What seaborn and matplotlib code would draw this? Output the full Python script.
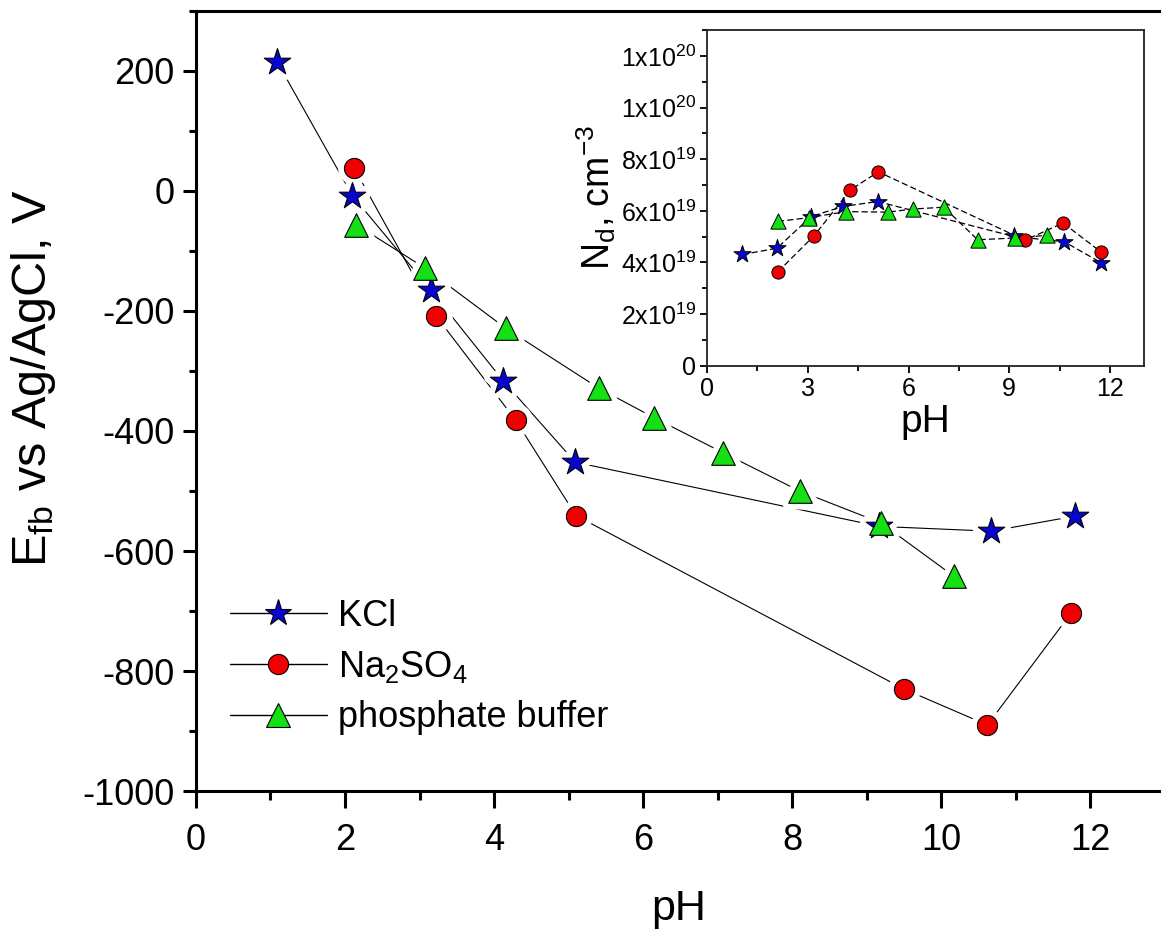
import matplotlib
matplotlib.use("Agg")
import matplotlib.pyplot as plt
import seaborn as sns
import pandas as pd
from matplotlib.lines import Line2D
from matplotlib.ticker import MultipleLocator, FixedLocator, FixedFormatter

# Données principales : potentiel de bande plate (mV) en fonction du pH
ph_kcl = [1.09, 2.10, 3.15, 4.12, 5.09, 9.17, 10.67, 11.79]
efb_kcl = [215, -8, -165, -316, -452, -559, -567, -542]
ph_na2so4 = [2.12, 3.22, 4.29, 5.10, 9.50, 10.62, 11.74]
efb_na2so4 = [39, -208, -382, -541, -830, -890, -704]
ph_phos = [2.15, 3.08, 4.16, 5.41, 6.15, 7.07, 8.10, 9.19, 10.17]
efb_phos = [-56, -129, -229, -329, -378, -436, -500, -553, -642]

# Encart : densité de donneurs Nd (cm^-3)
nd_ph_kcl = [1.05, 2.08, 3.10, 4.05, 5.08, 9.13, 10.64, 11.74]
nd_kcl = [4.31e19, 4.55e19, 5.78e19, 6.17e19, 6.36e19, 5.01e19, 4.80e19, 3.99e19]
nd_ph_na2so4 = [2.11, 3.19, 4.27, 5.10, 9.47, 10.60, 11.72]
nd_na2so4 = [3.64e19, 5.04e19, 6.81e19, 7.51e19, 4.86e19, 5.53e19, 4.42e19]
nd_ph_phos = [2.11, 3.05, 4.14, 5.39, 6.13, 7.05, 8.06, 9.17, 10.11]
nd_phos = [5.59e19, 5.74e19, 5.97e19, 5.95e19, 6.07e19, 6.14e19, 4.88e19, 4.95e19, 5.05e19]

labels = ["KCl", "Na$_2$SO$_4$", "phosphate buffer"]
colors = ["#0606d0", "#f00000", "#14e014"]
markers = ["*", "o", "^"]
sizes_main = [20, 14.5, 17]
sizes_inset = [13, 9.5, 11]
inset_yticks = [0, 2e19, 4e19, 6e19, 8e19, 1.0e20, 1.2e20]
inset_ylabels = ["0", "2x10$^{19}$", "4x10$^{19}$", "6x10$^{19}$", "8x10$^{19}$", "1x10$^{20}$", "1x10$^{20}$"]

main_df = pd.concat([
    pd.DataFrame({"pH": ph_kcl, "E": efb_kcl, "sel": labels[0]}),
    pd.DataFrame({"pH": ph_na2so4, "E": efb_na2so4, "sel": labels[1]}),
    pd.DataFrame({"pH": ph_phos, "E": efb_phos, "sel": labels[2]}),
])
inset_df = pd.concat([
    pd.DataFrame({"pH": nd_ph_kcl, "Nd": nd_kcl, "sel": labels[0]}),
    pd.DataFrame({"pH": nd_ph_na2so4, "Nd": nd_na2so4, "sel": labels[1]}),
    pd.DataFrame({"pH": nd_ph_phos, "Nd": nd_phos, "sel": labels[2]}),
])

sns.set_style("ticks")
plt.rcParams["font.family"] = ["Liberation Sans", "DejaVu Sans"]
plt.rcParams["mathtext.fontset"] = "custom"
plt.rcParams["mathtext.rm"] = "Liberation Sans"
plt.rcParams["mathtext.default"] = "regular"
plt.rcParams["axes.unicode_minus"] = False
for key in ["text.color", "axes.labelcolor", "xtick.color", "ytick.color", "axes.edgecolor"]:
    plt.rcParams[key] = "black"

fig = plt.figure(figsize=(11.61, 9.38), dpi=100)
ax = fig.add_axes([0.1688, 0.1567, 0.8312, 0.8316])

# Courbes principales : lignes fines noires, marqueurs colorés avec un halo blanc
for i, name in enumerate(labels):
    sub = main_df[main_df["sel"] == name]
    sns.lineplot(data=sub, x="pH", y="E", color="k", lw=0.8, sort=False,
                 estimator=None, ax=ax, zorder=2)
for i, name in enumerate(labels):
    sub = main_df[main_df["sel"] == name]
    sns.scatterplot(data=sub, x="pH", y="E", marker=markers[i], s=sizes_main[i] ** 2,
                    color="white", edgecolor="white", linewidth=9, ax=ax, zorder=3)
for i, name in enumerate(labels):
    sub = main_df[main_df["sel"] == name]
    sns.scatterplot(data=sub, x="pH", y="E", marker=markers[i], s=sizes_main[i] ** 2,
                    color=colors[i], edgecolor="k", linewidth=0.8, ax=ax, zorder=4)

ax.set_xlim(0, 12.95)
ax.set_ylim(-1000, 300)
ax.xaxis.set_major_locator(MultipleLocator(2))
ax.xaxis.set_minor_locator(MultipleLocator(1))
ax.yaxis.set_major_locator(MultipleLocator(200))
ax.yaxis.set_minor_locator(MultipleLocator(100))
ax.tick_params(axis="x", which="major", length=12, width=2.2, labelsize=26, pad=11)
ax.tick_params(axis="x", which="minor", length=6.5, width=2.2)
ax.tick_params(axis="y", which="major", length=9.5, width=2.2, labelsize=26, pad=6)
ax.tick_params(axis="y", which="minor", length=5, width=2.2)
for side in ["left", "bottom", "top"]:
    ax.spines[side].set_linewidth(2.2)
ax.spines["right"].set_visible(False)
ax.set_xlabel("pH", fontsize=31, labelpad=22)
ax.set_ylabel("E$_{fb}$ vs Ag/AgCl, V", fontsize=35)
ax.yaxis.set_label_coords(-0.143, 0.53)

handles = [Line2D([], [], color="k", lw=1, marker=markers[i], markersize=sizes_main[i],
                  markerfacecolor=colors[i], markeredgecolor="k", markeredgewidth=0.8)
           for i in range(3)]
ax.legend(handles, labels, loc="lower left", bbox_to_anchor=(0.02, 0.053), frameon=False,
          fontsize=26, handlelength=2.7, handletextpad=0.3, labelspacing=0.42,
          borderaxespad=0)

# Encart : Nd en fonction du pH
ins = fig.add_axes([0.609, 0.610, 0.376, 0.358])
for i, name in enumerate(labels):
    sub = inset_df[inset_df["sel"] == name]
    sns.lineplot(data=sub, x="pH", y="Nd", color="k", lw=0.9, sort=False,
                 estimator=None, ax=ins, zorder=2, dashes=False, linestyle=(0, (5, 2.5)))
for i, name in enumerate(labels):
    sub = inset_df[inset_df["sel"] == name]
    sns.scatterplot(data=sub, x="pH", y="Nd", marker=markers[i], s=sizes_inset[i] ** 2,
                    color=colors[i], edgecolor="k", linewidth=0.7, ax=ins, zorder=4)

ins.set_xlim(0, 13)
ins.set_ylim(0, 1.3e20)
ins.xaxis.set_major_locator(MultipleLocator(3))
ins.xaxis.set_minor_locator(MultipleLocator(1.5))
ins.yaxis.set_major_locator(FixedLocator(inset_yticks))
ins.yaxis.set_major_formatter(FixedFormatter(inset_ylabels))
ins.yaxis.set_minor_locator(MultipleLocator(1e19))
ins.tick_params(which="major", length=5, width=1.3, labelsize=18, pad=3)
ins.tick_params(which="minor", length=3.5, width=1.3)
for side in ins.spines:
    ins.spines[side].set_linewidth(1.3)
    ins.spines[side].set_color("#222222")
ins.set_xlabel("pH", fontsize=28, labelpad=2)
ins.set_ylabel("N$_d$, cm$^{-3}$", fontsize=27, labelpad=2)

fig.savefig("out.png", dpi=100)
